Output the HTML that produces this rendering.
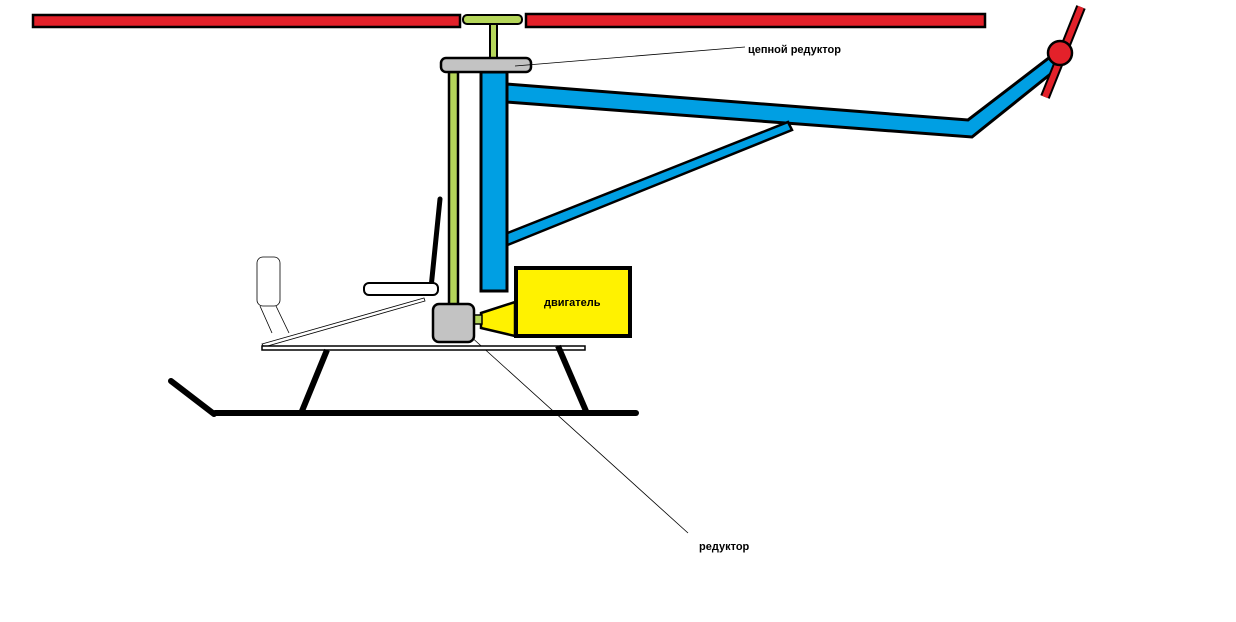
<!DOCTYPE html>
<html><head><meta charset="utf-8"><style>
html,body{margin:0;padding:0;background:#fff;width:1236px;height:622px;overflow:hidden}
svg{display:block}
text{font-family:"Liberation Sans","DejaVu Sans",sans-serif;font-weight:bold;font-size:11px;fill:#000}
</style></head><body>
<svg width="1236" height="622" viewBox="0 0 1236 622" xmlns="http://www.w3.org/2000/svg">
<!-- main rotor -->
<rect x="33" y="15" width="427" height="12" fill="#e3212a" stroke="#000" stroke-width="2.5"/>
<rect x="526" y="14" width="459" height="13" fill="#e3212a" stroke="#000" stroke-width="2.5"/>
<rect x="463" y="15" width="59" height="9" rx="4" fill="#b5d65a" stroke="#000" stroke-width="2"/>
<rect x="490" y="24" width="7" height="35" fill="#b5d65a" stroke="#000" stroke-width="2"/>
<!-- tail boom -->
<polygon points="507,84 968,120 1050,57 1058,68 972,137 507,102" fill="#009fe3" stroke="#000" stroke-width="3"/>
<polygon points="505,234 788,122 792,130 505,246" fill="#009fe3" stroke="#000" stroke-width="2.5"/>
<!-- tail rotor -->
<line x1="1081" y1="7" x2="1045" y2="97" stroke="#000" stroke-width="10"/>
<line x1="1081" y1="7" x2="1045" y2="97" stroke="#e3212a" stroke-width="6"/>
<circle cx="1060" cy="53" r="12" fill="#e3212a" stroke="#000" stroke-width="2.5"/>
<!-- vertical mast -->
<rect x="481" y="72" width="26" height="219" fill="#009fe3" stroke="#000" stroke-width="3"/>
<rect x="449" y="72" width="9" height="234" fill="#b5d65a" stroke="#000" stroke-width="2.5"/>
<rect x="441" y="58" width="90" height="14" rx="5" fill="#c3c3c3" stroke="#000" stroke-width="2.5"/>
<!-- leader lines -->
<line x1="515" y1="66" x2="745" y2="47" stroke="#000" stroke-width="0.8"/>
<line x1="458" y1="325" x2="688" y2="533" stroke="#000" stroke-width="0.8"/>
<!-- engine -->
<polygon points="481,313 515,302 515,336 481,328" fill="#fff200" stroke="#000" stroke-width="2.5"/>
<rect x="474" y="315" width="8" height="9" fill="#b5d65a" stroke="#000" stroke-width="1.5"/>
<rect x="516" y="268" width="114" height="68" fill="#fff200" stroke="#000" stroke-width="4"/>
<text x="544" y="306">двигатель</text>
<!-- gearbox -->
<rect x="433" y="304" width="41" height="38" rx="6" fill="#c3c3c3" stroke="#000" stroke-width="2.5"/>
<!-- seat -->
<line x1="440" y1="199" x2="431" y2="288" stroke="#000" stroke-width="5" stroke-linecap="round"/>
<rect x="364" y="283" width="74" height="12" rx="5" fill="#fff" stroke="#000" stroke-width="2"/>
<!-- pedal -->
<rect x="257" y="257" width="23" height="49" rx="6" fill="#fff" stroke="#000" stroke-width="0.8"/>
<line x1="260" y1="306" x2="272" y2="333" stroke="#000" stroke-width="0.8"/>
<line x1="276" y1="306" x2="289" y2="333" stroke="#000" stroke-width="0.8"/>
<polygon points="262,344 424,298 425,301 264,347" fill="#fff" stroke="#000" stroke-width="0.8"/>
<!-- deck -->
<rect x="262" y="346" width="323" height="4" fill="#fff" stroke="#000" stroke-width="1.5"/>
<!-- legs and skid -->
<line x1="327" y1="350" x2="302" y2="411" stroke="#000" stroke-width="6"/>
<line x1="558" y1="346" x2="586" y2="411" stroke="#000" stroke-width="6"/>
<line x1="171" y1="381" x2="214" y2="414" stroke="#000" stroke-width="6" stroke-linecap="round"/>
<line x1="215" y1="413" x2="636" y2="413" stroke="#000" stroke-width="6" stroke-linecap="round"/>
<!-- labels -->
<text x="748" y="53">цепной редуктор</text>
<text x="699" y="550">редуктор</text>
</svg>
</body></html>
